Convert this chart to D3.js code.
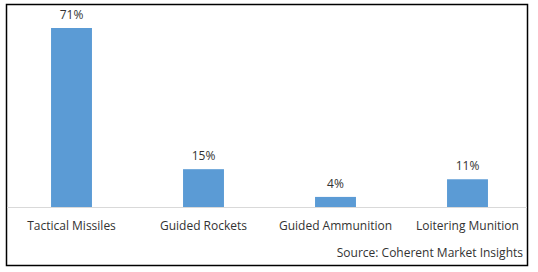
<!DOCTYPE html>
<html>
<head>
<meta charset="utf-8">
<script src="https://cdn.jsdelivr.net/npm/d3@7"></script>
<style>
	body { margin: 0; background: #fff; }
	svg { display: block; }
	text { font-family: "Open Sans", "Liberation Sans", sans-serif; fill: #333; }
</style>
</head>
<body>
<script>
// Chart data
const categories = ["Tactical Missiles", "Guided Rockets", "Guided Ammunition", "Loitering Munition"];
const shares = [71, 15, 4, 11];
const sourceNote = "Source: Coherent Market Insights";

const w = 538; // Width of the SVG
const h = 272; // Height of the SVG
const baseY = 207; // Category axis line

const svg = d3.select("body").append("svg").attr("width", w).attr("height", h);

// Outer frame
svg.append("rect")
	.attr("x", 6.5)
	.attr("y", 4.5)
	.attr("width", 521)
	.attr("height", 261)
	.attr("fill", "none")
	.attr("stroke", "#000")
	.attr("stroke-width", 1.5);

// Scales
const xScale = d3.scaleBand()
	.domain(categories)
	.range([5.5, 533.5])
	.paddingInner(0.69)
	.paddingOuter(0.345);

const yScale = d3.scaleLinear()
	.domain([0, 71])
	.range([baseY, 28]);

// Category axis
const xAxis = d3.axisBottom(xScale).tickSize(0).tickPadding(14);
const gx = svg.append("g")
	.attr("transform", `translate(0, ${baseY})`)
	.call(xAxis);
gx.select(".domain").remove();
gx.selectAll("text")
	.style("font-size", "12px")
	.style("font-family", "\"Open Sans\", \"Liberation Sans\", sans-serif")
	.attr("fill", "#333");

svg.append("line")
	.attr("x1", 7)
	.attr("x2", 527)
	.attr("y1", baseY + 0.5)
	.attr("y2", baseY + 0.5)
	.attr("stroke", "#d9d9d9")
	.attr("stroke-width", 1);

// Bars
svg.selectAll("rect.bar")
	.data(shares)
	.enter()
	.append("rect")
	.attr("class", "bar")
	.attr("x", (d, i) => xScale(categories[i]))
	.attr("y", (d) => yScale(d))
	.attr("width", xScale.bandwidth())
	.attr("height", (d) => baseY - yScale(d))
	.attr("fill", "#5b9bd5");

// Value labels
svg.selectAll("text.value")
	.data(shares)
	.enter()
	.append("text")
	.attr("class", "value")
	.attr("x", (d, i) => xScale(categories[i]) + xScale.bandwidth() / 2)
	.attr("y", (d) => yScale(d) - 9)
	.attr("text-anchor", "middle")
	.style("font-size", "12px")
	.text((d) => `${d}%`);

// Source note
svg.append("text")
	.attr("x", 523)
	.attr("y", 257)
	.attr("text-anchor", "end")
	.style("font-size", "12px")
	.text(sourceNote);
</script>
</body>
</html>
